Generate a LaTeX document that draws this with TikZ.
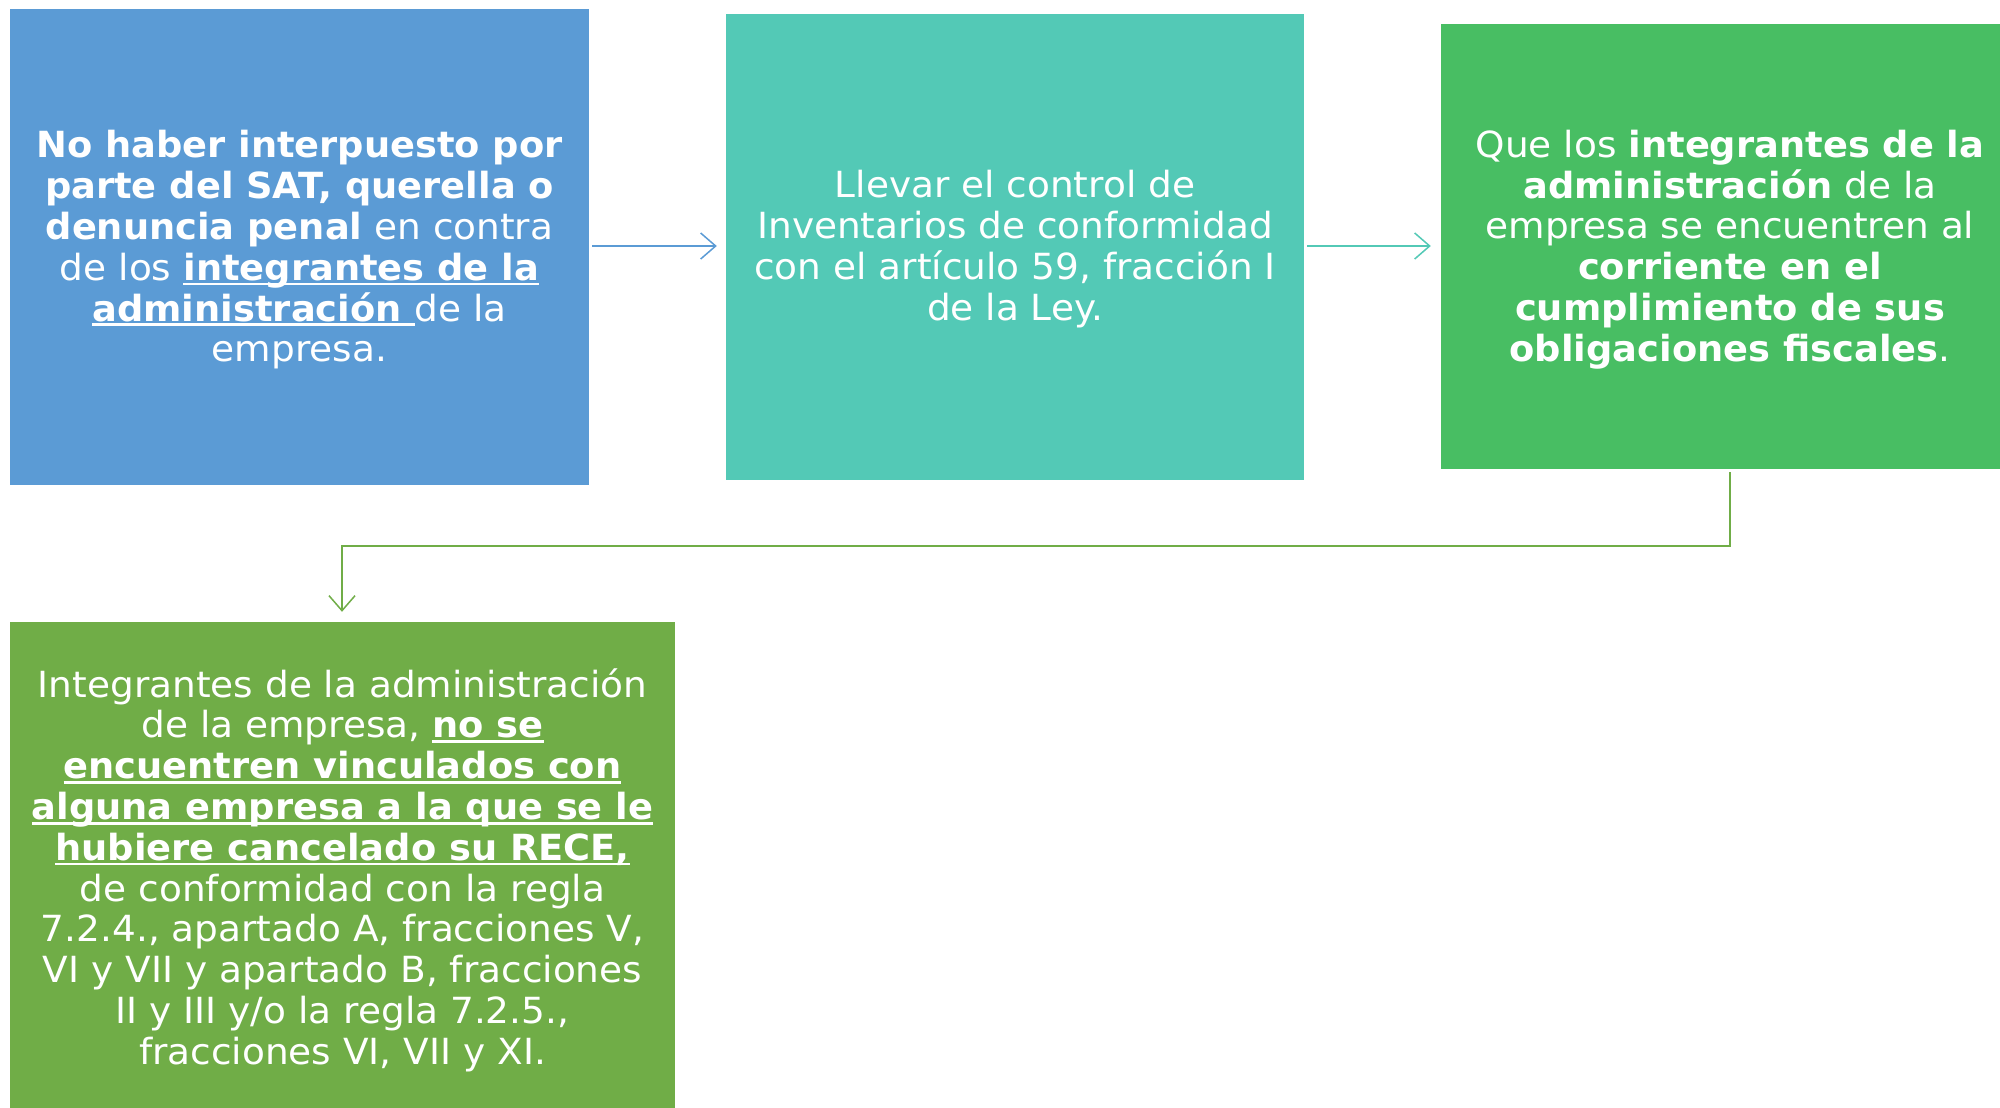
\documentclass[tikz,border=0pt]{standalone}
\usepackage{fontspec}
\setmainfont{DejaVu Sans}[UprightFeatures={FakeStretch=1.04}, BoldFeatures={FakeStretch=1.022}]
\usetikzlibrary{arrows.meta}
\definecolor{cblue}{HTML}{5B9BD5}
\definecolor{cteal}{HTML}{53C9B6}
\definecolor{cgreen}{HTML}{48BE63}
\definecolor{colive}{HTML}{70AD47}
\newcommand\myul[1]{\setbox0=\hbox{#1}\rlap{\rule[-0.14em]{\wd0}{0.075em}}\box0}
\tikzset{
  x=1pt,y=-1pt,
  boxstyle/.style={rectangle, inner sep=0pt},
  txtstyle/.style={inner sep=0pt, text=white, align=center,
    font=\fontsize{36}{40.8}\selectfont},
  conn/.style={line width=1.5pt, -{Straight Barb[length=15pt,width=26pt,line width=1.5pt]}}
}
\begin{document}
\begin{tikzpicture}
\clip (0,0) rectangle (2000,1108);
\fill[white] (0,0) rectangle (2000,1108);
\node[boxstyle, fill=cblue, minimum width=579pt, minimum height=476pt] (b1) at (299.5,247) {};
\node[txtstyle, yshift=-3pt] (t1) at (b1.center)
 {\textbf{No haber interpuesto por}\\ \textbf{parte del SAT, querella o}\\ \textbf{denuncia penal} en contra\\ de los \myul{\textbf{integrantes de la}}\\ \myul{\textbf{administración }}de la\\ empresa.};
\node[boxstyle, fill=cteal, minimum width=578pt, minimum height=466pt] (b2) at (1015,247) {};
\node[txtstyle, yshift=-2pt] (t2) at (b2.center)
 {Llevar el control de\\ Inventarios de conformidad\\ con el artículo 59, fracción I\\ de la Ley.};
\node[boxstyle, fill=cgreen, minimum width=578pt, minimum height=445pt] (b3) at (1730,246.5) {};
\node[txtstyle, yshift=-3pt] (t3) at (b3.center)
 {Que los \textbf{integrantes de la}\\ \textbf{administración} de la\\ empresa se encuentren al\\ \textbf{corriente en el}\\ \textbf{cumplimiento de sus}\\ \textbf{obligaciones fiscales}.};
\node[boxstyle, fill=colive, minimum width=665pt, minimum height=486pt] (b4) at (342.5,865) {};
\node[txtstyle, yshift=-5pt] (t4) at (b4.center)
 {Integrantes de la administración\\ de la empresa, \myul{\textbf{no se}}\\ \myul{\textbf{encuentren vinculados con}}\\ \myul{\textbf{alguna empresa a la que se le}}\\ \myul{\textbf{hubiere cancelado su RECE,}}\\ de conformidad con la regla\\ 7.2.4., apartado A, fracciones V,\\ VI y VII y apartado B, fracciones\\ II y III y/o la regla 7.2.5.,\\ fracciones VI, VII y XI.};
\coordinate (e1) at (1730,546);
\coordinate (e2) at (342,546);
\draw[conn, cblue, shorten <=3pt, shorten >=9pt] (b1.east |- 0,246) -- (b2.west |- 0,246);
\draw[conn, cteal, shorten <=3pt, shorten >=10pt] (b2.east |- 0,246) -- (b3.west |- 0,246);
\draw[conn, colive, shorten <=3pt, shorten >=10pt] (b3.south) -- (e1) -- (e2) -- (b4.north -| e2);
\end{tikzpicture}
\end{document}
